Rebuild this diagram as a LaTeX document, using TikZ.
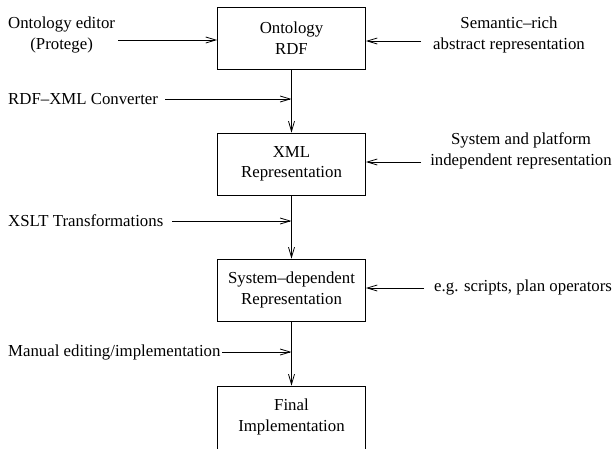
\documentclass[tikz,border=0pt]{standalone}
\usepackage{fontspec}
\setmainfont{Liberation Serif}
\usetikzlibrary{arrows.meta}
\begin{document}
\begin{tikzpicture}[x=1pt,y=-1pt,
  txt/.style={font=\fontsize{16.8}{20.5}\selectfont, align=center, inner sep=0pt},
  box/.style={txt, draw, line width=0.8pt, minimum width=148pt, minimum height=62pt},
  lbl/.style={txt},
  arr/.style={line width=0.8pt, -{Straight Barb[length=10pt,width=6pt]}},
  ]
\useasboundingbox (0,0) rectangle (612,448);
% boxes
\node[box] (b1) at (291.5,38) {Ontology\\RDF};
\node[box] (b2) at (291.5,164) {XML\\Representation};
\node[box] (b3) at (291.5,290) {System–dependent\\Representation};
\node[box, minimum height=70pt] (b4) at (291.5,421) {};
\node[txt] (b4t) at (291.5,417) {Final\\Implementation};
% main flow
\draw[arr] (b1.south) -- (b2.north);
\draw[arr] (b2.south) -- (b3.north);
\draw[arr] (b3.south) -- (b4.north);
% left labels
\node[lbl, anchor=west] (l1) at (8,35) {Ontology editor\\(Protege)};
\node[lbl, anchor=west] (l2) at (8,99) {RDF–XML Converter};
\node[lbl, anchor=west] (l3) at (8,221) {XSLT Transformations};
\node[lbl, anchor=west] (l4) at (8,352) {Manual editing/implementation};
\coordinate (a1) at (118,40);
\coordinate (a2) at (165,99);
\coordinate (a3) at (172,221);
\coordinate (a4) at (222,352);
\draw[arr] (a1) -- (a1 -| b1.west);
\draw[arr] (a2) -- (a2 -| b1.south);
\draw[arr] (a3) -- (a3 -| b2.south);
\draw[arr] (a4) -- (a4 -| b3.south);
% right labels
\node[lbl] (r1) at (509,35) {Semantic–rich\\abstract representation};
\node[lbl] (r2) at (521,151) {System and platform\\independent representation};
\node[lbl, anchor=west] (r3) at (434,287) {e.g. scripts, plan operators};
\coordinate (c1) at (421,41);
\coordinate (c2) at (421,162);
\coordinate (c3) at (424,288);
\draw[arr] (c1) -- (c1 -| b1.east);
\draw[arr] (c2) -- (c2 -| b2.east);
\draw[arr] (c3) -- (c3 -| b3.east);
\end{tikzpicture}
\end{document}
